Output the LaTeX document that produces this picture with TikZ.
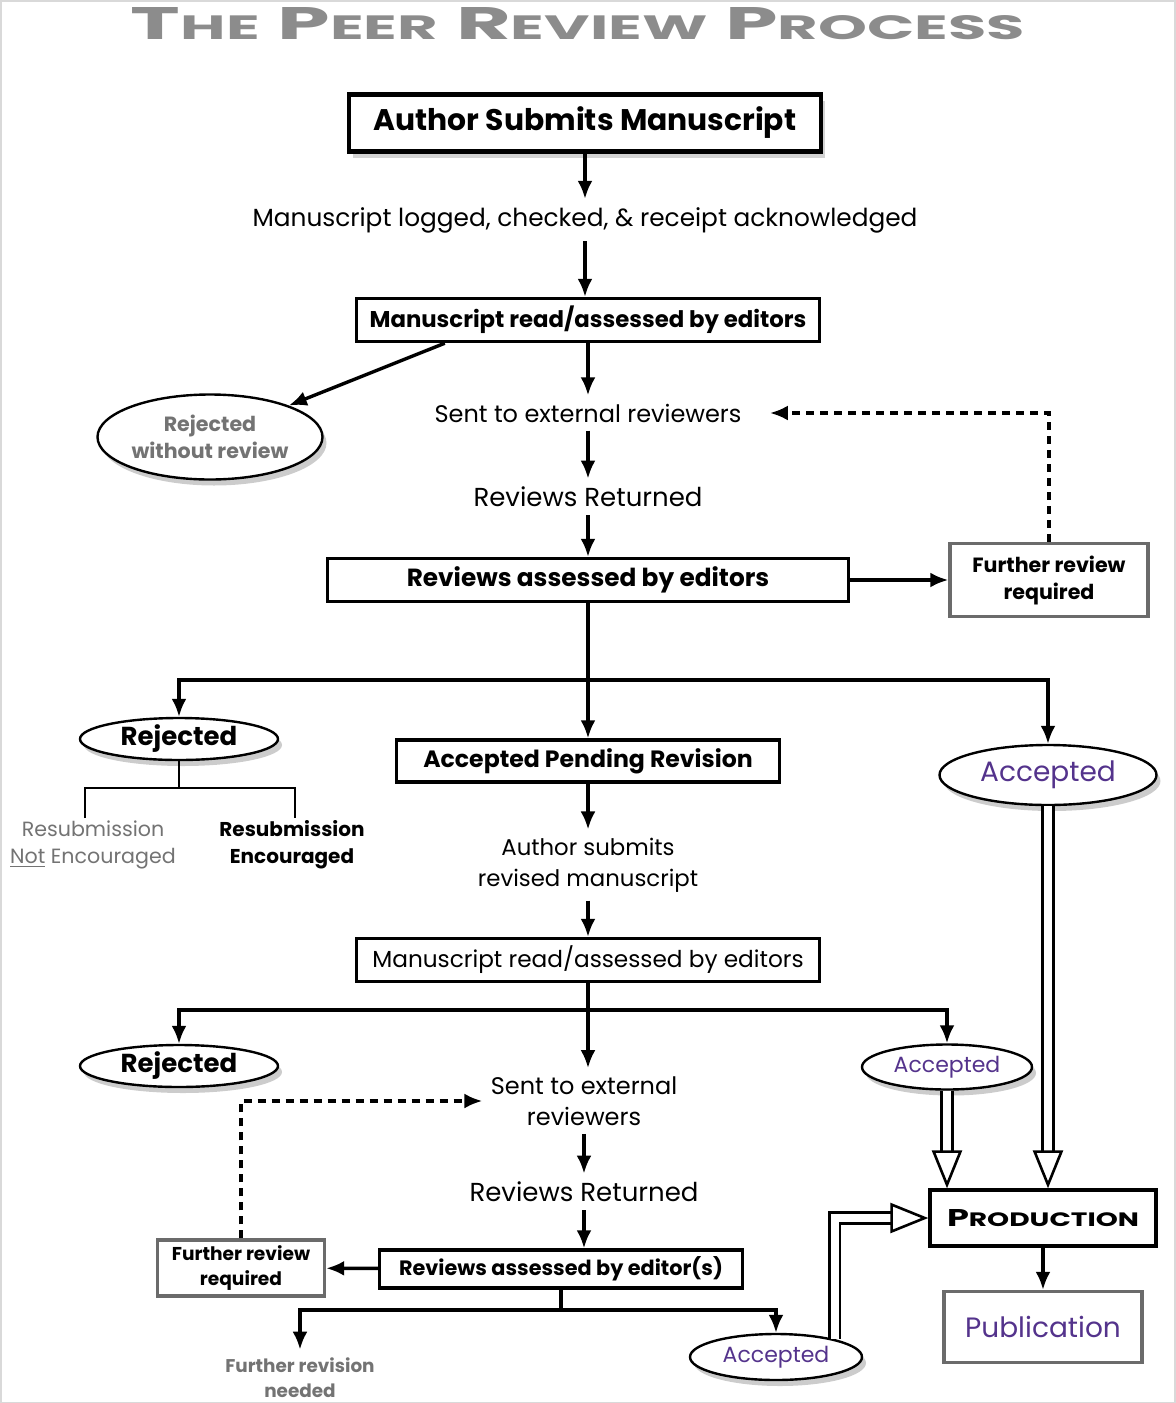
\documentclass[tikz,border=0pt]{standalone}
\usepackage{fontspec}
\setmainfont{Poppins}
\usetikzlibrary{arrows.meta,calc,shapes.geometric,shadows}
\definecolor{TitleClr}{gray}{0.55}
\definecolor{FadeClr}{gray}{0.45}
\definecolor{EdgeClr}{gray}{0.42}
\definecolor{DecoClr}{rgb}{0.33,0.2,0.55}
\newcommand\fsz[2]{\fontsize{#1}{#2}\selectfont}

\tikzset{
  box/.style={draw,line width=1.7pt,fill=white,inner sep=2pt,font=\bfseries},
  greybox/.style={box,draw=EdgeClr,align=center},
  oval/.style={ellipse,draw,line width=1.2pt,fill=white,inner sep=0pt,
    drop shadow={shadow xshift=2pt,shadow yshift=-3pt,opacity=.4}},
  lbl/.style={inner sep=4pt,align=center},
  arr/.style={line width=1.7pt,-{Latex[length=9pt,width=7.5pt]}},
  dasharr/.style={arr,dash pattern=on 4pt off 3pt},
  fork/.style={line width=1pt},
  dbl/.style={double,line width=1.3pt,double distance=4pt,
    -{Triangle[open,length=19pt,width=15pt]}}
}

\begin{document}
\begin{tikzpicture}[x=0.5pt,y=-0.5pt]
\useasboundingbox (0,0) rectangle (1175,1403);
\draw[gray!30,line width=1pt] (0.5,0.5) rectangle (1174.5,1402.5);

\node[TitleClr] (Ttl) at (578,24) {\resizebox{447pt}{16pt}{\bfseries\fsz{23}{26}%
  T{\fsz{17}{20}HE} P{\fsz{17}{20}EER} R{\fsz{17}{20}EVIEW} P{\fsz{17}{20}ROCESS}}};

% first round
\node[box,line width=2.2pt,minimum width=236pt,minimum height=28.5pt,font=\bfseries\fsz{14.9}{17},
  drop shadow={shadow xshift=2pt,shadow yshift=-3pt,opacity=.35}] (Sub) at (585,123) {Author Submits Manuscript};
\node[lbl,font=\fsz{12.4}{15}] (Log) at (585,220) {Manuscript logged, checked, \& receipt acknowledged};
\node[box,minimum width=231.5pt,minimum height=21.5pt,font=\bfseries\fsz{11.4}{13}] (ReadA) at (588,320) {Manuscript read/assessed by editors};
\node[oval,minimum width=112.5pt,minimum height=42.5pt,text=FadeClr,align=center,font=\bfseries\fsz{10.3}{13.5}] (RejNR) at (210,437) {Rejected\\without review};
\node[lbl,font=\fsz{12}{14}] (SentA) at (588,413) {Sent to external reviewers};
\node[lbl,font=\fsz{13}{15}] (RetA) at (588,497) {Reviews Returned};
\node[box,minimum width=260.5pt,minimum height=21.5pt,font=\bfseries\fsz{12.4}{14}] (AssA) at (588,580) {Reviews assessed by editors};
\node[greybox,minimum width=99pt,minimum height=36.5pt,font=\bfseries\fsz{10.3}{13.5}] (FurA) at (1049,580) {Further review\\required};

\coordinate (SplitA) at (588,680);
\node[oval,minimum width=99pt,minimum height=21pt,font=\bfseries\fsz{13}{15}] (RejA) at (179,739) {Rejected};
\node[box,minimum width=191.5pt,minimum height=21pt,font=\bfseries\fsz{11.8}{13}] (APR) at (588,761) {Accepted Pending Revision};
\node[oval,minimum width=108.5pt,minimum height=30pt,text=DecoClr,font=\fsz{14}{16}] (AccA) at (1048,775) {Accepted};

\coordinate (ResA) at (179,788);
\coordinate (NoT) at (85,818);
\coordinate (YesT) at (295,818);
\node[lbl,text=FadeClr,font=\fsz{10.3}{13.5}] (ResNo) at (93,845) {Resubmission\\\underline{Not} Encouraged};
\node[lbl,font=\bfseries\fsz{10}{13.5}] (ResYes) at (292,845) {Resubmission\\Encouraged};

% second round
\node[lbl,font=\fsz{11.4}{15.5}] (AuthRev) at (588,865) {Author submits\\revised manuscript};
\node[box,minimum width=231.5pt,minimum height=21.5pt,font=\mdseries\fsz{11.6}{13}] (ReadB) at (588,960) {Manuscript read/assessed by editors};
\coordinate (SplitB) at (588,1010);
\node[oval,minimum width=99pt,minimum height=21pt,font=\bfseries\fsz{13}{15}] (RejB) at (179,1066) {Rejected};
\node[oval,minimum width=85pt,minimum height=22.5pt,text=DecoClr,font=\fsz{11}{13}] (AccB) at (947,1067) {Accepted};
\node[lbl,font=\fsz{12}{15.5}] (SentB) at (584,1101) {Sent to external\\reviewers};
\node[lbl,font=\fsz{13}{15}] (RetB) at (584,1192) {Reviews Returned};
\node[box,minimum width=181.5pt,minimum height=19pt,font=\bfseries\fsz{10.4}{12}] (AssB) at (561,1269) {Reviews assessed by editor(s)};
\node[greybox,minimum width=83.5pt,minimum height=28pt,font=\bfseries\fsz{9.3}{12.5}] (FurB) at (241,1268) {Further review\\required};
\coordinate (SplitC) at (561,1310);
\node[lbl,text=FadeClr,font=\bfseries\fsz{9.2}{12.5}] (Need) at (300,1378) {Further revision\\needed};
\node[oval,minimum width=86pt,minimum height=23pt,text=DecoClr,font=\fsz{11}{13}] (AccC) at (776,1357) {Accepted};

\node[box,minimum width=113pt,minimum height=28pt] (Prod) at (1043,1218) {\resizebox{96pt}{8.5pt}{\bfseries P{\fsz{8}{10}RODUCTION}}};
\node[box,draw=EdgeClr,minimum width=99pt,minimum height=35.5pt,text=DecoClr,font=\mdseries\fsz{14}{16}] (Pub) at (1043,1327) {Publication};

\draw[arr] (Sub) -- (Log);
\draw[arr] (Log.south) -- (Log.south |- ReadA.north);
\draw[arr] ($(ReadA.south west)+(90,0)$) -- (RejNR);
\draw[arr] (ReadA) -- (SentA);
\draw[arr] (SentA) -- (RetA);
\draw[arr] (RetA) -- (AssA);
\draw[arr] (AssA) -- (FurA);
\draw[dasharr] (FurA.north) |- ([xshift=10pt]SentA.east);
\draw[line width=1.7pt] (AssA) -- (SplitA);
\draw[arr] (SplitA) -| (RejA);
\draw[arr] (SplitA) -- (APR);
\draw[arr] (SplitA) -| (AccA);
\draw[fork] (RejA) -- (ResA);
\draw[fork] (NoT) |- (ResA) -| (YesT);

\draw[arr] (APR) -- (AuthRev);
\draw[arr] (AuthRev) -- (ReadB);
\draw[line width=1.7pt] (ReadB) -- (SplitB);
\draw[arr] (SplitB) -| (RejB);
\draw[arr] (SplitB) -- (SplitB |- SentB.north);
\draw[arr] (SplitB) -| (AccB);
\draw[dasharr] (FurB.north) |- (SentB.west);
\draw[arr] (SentB) -- (RetB);
\draw[arr] (RetB.south) -- (RetB.south |- AssB.north);
\draw[arr] (AssB) -- (FurB);
\draw[line width=1.7pt] (AssB) -- (SplitC);
\draw[arr] (SplitC) -| (Need);
\draw[arr] (SplitC) -| (AccC);

\draw[dbl] (AccA) -- (AccA |- Prod.north);
\draw[dbl] (AccB) -- (AccB |- Prod.north);
\draw[dbl] (AccC.17) |- (Prod.west);
\draw[arr] (Prod) -- (Pub);
\end{tikzpicture}
\end{document}
